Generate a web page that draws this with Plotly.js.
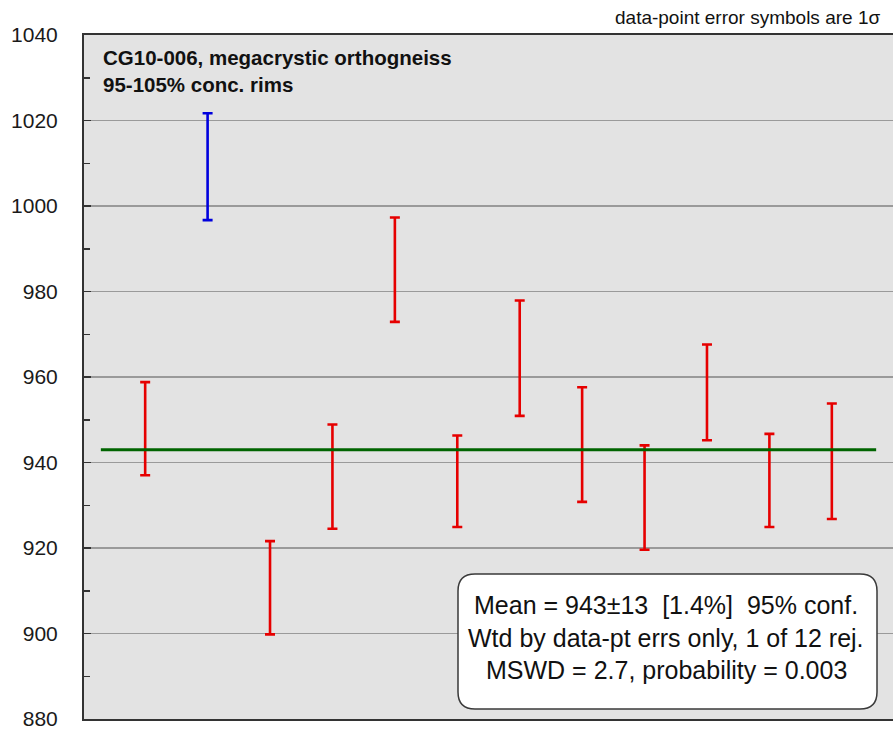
<!DOCTYPE html>
<html>
<head>
<meta charset="utf-8">
<script src="https://cdn.plot.ly/plotly-3.0.1.min.js"></script>
<style>
  html, body { margin: 0; padding: 0; background: #fff; }
  #chart { width: 893px; height: 731px; }
</style>
</head>
<body>
<div id="chart"></div>
<script>
// Zircon 206Pb/238U ages (Ma) with 1-sigma errors, one entry per analysis
const analyses = [1, 2, 3, 4, 5, 6, 7, 8, 9, 10, 11, 12];
const ages = [947.9, 1009.2, 910.7, 936.7, 985.1, 935.6, 964.4, 944.2, 931.8, 956.4, 935.8, 940.3];
const errs = [10.9, 12.5, 10.9, 12.2, 12.2, 10.7, 13.5, 13.4, 12.2, 11.2, 10.9, 13.5];
const rejected = [false, true, false, false, false, false, false, false, false, false, false, false];

// Weighted mean result
const meanAge = 943;
const yTickVals = [880, 900, 920, 940, 960, 980, 1000, 1020, 1040];

const titleLines = ['CG10-006, megacrystic orthogneiss', '95-105% conc. rims'];
const noteText = 'data-point error symbols are 1\u03c3';
const statLines = [
  'Mean = 943\u00b113  [1.4%]  95% conf.',
  'Wtd by data-pt errs only, 1 of 12 rej.',
  'MSWD = 2.7, probability = 0.003'
];

function pick(arr, keep) { return arr.filter((_, i) => keep(i)); }

const keptIdx = i => !rejected[i];
const rejIdx = i => rejected[i];

function barTrace(sel, color) {
  return {
    type: 'scatter',
    mode: 'markers',
    x: pick(analyses, sel),
    y: pick(ages, sel),
    marker: { size: 1, color: color, opacity: 0 },
    error_y: { type: 'data', array: pick(errs, sel), visible: true,
               color: color, thickness: 2.6, width: 5 },
    hoverinfo: 'skip',
    showlegend: false
  };
}

const n = analyses.length;
const meanTrace = {
  type: 'scatter',
  mode: 'lines',
  x: [analyses[0] - 0.71, analyses[n - 1] + 0.71],
  y: [meanAge, meanAge],
  line: { color: '#006400', width: 3 },
  hoverinfo: 'skip',
  showlegend: false
};

const plotW = 893 - 84, plotH = 731 - 35 - 12;
function px2x(px) { return (px - 84) / plotW; }
function px2y(py) { return (719 - py) / plotH; }

// rounded statistics box (paper coordinates)
const bx0 = px2x(458), bx1 = px2x(877), by0 = px2y(709), by1 = px2y(574);
const rx = 17 / plotW, ry = 17 / plotH;
const boxPath = [
  'M', bx0 + rx, by1,
  'L', bx1 - rx, by1,
  'Q', bx1, by1, bx1, by1 - ry,
  'L', bx1, by0 + ry,
  'Q', bx1, by0, bx1 - rx, by0,
  'L', bx0 + rx, by0,
  'Q', bx0, by0, bx0, by0 + ry,
  'L', bx0, by1 - ry,
  'Q', bx0, by1, bx0 + rx, by1, 'Z'
].join(' ');

const font = 'Liberation Sans, Arial, sans-serif';
const annotations = [];
titleLines.forEach((t, i) => {
  annotations.push({
    xref: 'paper', yref: 'paper', x: px2x(101), y: px2y(58 + i * 26),
    xanchor: 'left', yanchor: 'middle', showarrow: false,
    text: '<b>' + t + '</b>', font: { family: font, size: 20.5, color: '#111' }
  });
});
statLines.forEach((t, i) => {
  annotations.push({
    xref: 'paper', yref: 'paper', x: px2x(666), y: px2y(605 + i * 32.5),
    xanchor: 'center', yanchor: 'middle', showarrow: false,
    text: t, font: { family: font, size: 25, color: '#111' }
  });
});
annotations.push({
  xref: 'paper', yref: 'paper', x: px2x(882), y: px2y(18),
  xanchor: 'right', yanchor: 'middle', showarrow: false,
  text: noteText, font: { family: font, size: 19, color: '#111' }
});

const layout = {
  width: 893, height: 731,
  margin: { l: 84, r: 0, t: 35, b: 12, pad: 0 },
  paper_bgcolor: '#ffffff',
  plot_bgcolor: '#e3e3e3',
  showlegend: false,
  xaxis: {
    range: [0.02, 12.98],
    showticklabels: false, ticks: '', showgrid: false, zeroline: false,
    showline: true, mirror: true, linecolor: '#333', linewidth: 2
  },
  yaxis: {
    range: [880, 1040],
    tickvals: yTickVals,
    ticks: 'inside', ticklen: 7, tickwidth: 1.5, tickcolor: '#333',
    minor: { dtick: 10, ticks: 'inside', ticklen: 6, tickwidth: 1.5, tickcolor: '#333', showgrid: false },
    showgrid: true, gridcolor: '#9a9a9a', gridwidth: 1.6,
    zeroline: false,
    showline: true, linecolor: '#333', linewidth: 2,
    ticklabelstandoff: 20,
    tickfont: { family: font, size: 21, color: '#1a1a1a' }
  },
  shapes: [{
    type: 'path', xref: 'paper', yref: 'paper', path: boxPath,
    fillcolor: '#ffffff', line: { color: '#3a3a3a', width: 1.5 }, layer: 'above'
  }],
  annotations: annotations
};

Plotly.newPlot('chart', [barTrace(keptIdx, '#e60000'), barTrace(rejIdx, '#0000dd'), meanTrace],
  layout, { displayModeBar: false, staticPlot: true });
</script>
</body>
</html>
